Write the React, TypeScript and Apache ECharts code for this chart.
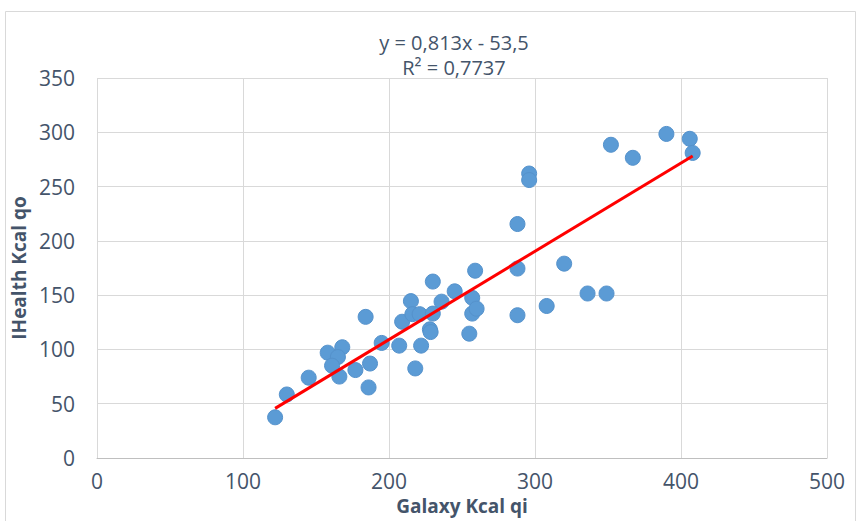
import React, { useEffect, useRef } from "react";
import * as echarts from "echarts";

const galaxyKcal: number[] = [
  122, 130, 145, 158, 168, 165, 161, 166, 177, 184, 187, 186, 195, 207, 218, 222,
  209, 215, 216, 221, 228, 228.5, 230, 230, 236, 245, 255, 257, 257, 260, 259,
  288, 288, 308, 288, 296, 296, 320, 336, 349, 352, 367, 390, 406, 408,
];
const healthKcal: number[] = [
  37.5, 58.5, 74, 97, 102, 93, 85, 75, 81, 130, 87, 65, 106, 103.5, 82.5, 103.5,
  125.5, 144.5, 132.5, 132.5, 118.5, 116, 133, 162.5, 144, 153.5, 114.5, 147.5, 133, 137.5, 172.5,
  174.5, 131.5, 140, 215.5, 262, 256, 179, 151.5, 151.5, 288.5, 276.5, 298.5, 294, 281,
];
const points: [number, number][] = galaxyKcal.map((x, i) => [x, healthKcal[i]]);

const slope = 0.813;
const intercept = -53.5;
const equationText = "y = 0,813x - 53,5";
const r2Text = "R² = 0,7737";
const xTicks = [0, 100, 200, 300, 400, 500];
const yTicks = [0, 50, 100, 150, 200, 250, 300, 350];

export default function App() {
  const ref = useRef<HTMLDivElement>(null);
  useEffect(() => {
    document.body.style.margin = "0";
    if (!ref.current) return;
    const chart = echarts.init(ref.current, undefined, { renderer: "svg" });
    const xs = points.map((p) => p[0]);
    const xMin = Math.min(...xs);
    const xMax = Math.max(...xs);
    const trend = [
      [xMin, slope * xMin + intercept],
      [xMax, slope * xMax + intercept],
    ];
    const textColor = "#44546A";
    const font = "'Open Sans', sans-serif";
    chart.setOption({
      animation: false,
      backgroundColor: "#ffffff",
      grid: { left: 97, right: 31, top: 78, bottom: 63, containLabel: false },
      graphic: [
        {
          type: "rect",
          shape: { x: 5.5, y: 11.5, width: 850, height: 520 },
          style: { fill: "none", stroke: "#D9D9D9", lineWidth: 1 },
          silent: true,
        },
        {
          type: "text",
          x: 454,
          y: 42,
          style: {
            text: equationText,
            fill: textColor,
            font: `20px ${font}`,
            align: "center",
            verticalAlign: "middle",
          },
        },
        {
          type: "text",
          x: 454,
          y: 67,
          style: {
            text: r2Text,
            fill: textColor,
            font: `20px ${font}`,
            align: "center",
            verticalAlign: "middle",
          },
        },
      ],
      xAxis: {
        type: "value",
        min: xTicks[0],
        max: xTicks[xTicks.length - 1],
        interval: 100,
        name: "Galaxy Kcal qi",
        nameLocation: "middle",
        nameGap: 38,
        nameTextStyle: { color: textColor, fontSize: 19, fontWeight: "bold", fontFamily: font },
        axisLine: { show: true, lineStyle: { color: "#BFBFBF", width: 1 } },
        axisTick: { show: false },
        axisLabel: { color: textColor, fontSize: 21, fontFamily: font, margin: 12 },
        splitLine: { show: true, lineStyle: { color: "#D9D9D9", width: 1 } },
      },
      yAxis: {
        type: "value",
        min: yTicks[0],
        max: yTicks[yTicks.length - 1],
        interval: 50,
        name: "IHealth Kcal qo",
        nameLocation: "middle",
        nameGap: 53,
        nameRotate: 90,
        nameTextStyle: { color: textColor, fontSize: 19, fontWeight: "bold", fontFamily: font },
        axisLine: { show: false },
        axisTick: { show: false },
        axisLabel: { color: textColor, fontSize: 21, fontFamily: font, margin: 22 },
        splitLine: { show: true, lineStyle: { color: "#D9D9D9", width: 1 } },
      },
      series: [
        {
          type: "scatter",
          data: points,
          symbol: "circle",
          symbolSize: 15,
          itemStyle: { color: "#5B9BD5", borderColor: "#5592CC", borderWidth: 1, opacity: 1 },
          z: 2,
        },
        {
          type: "line",
          data: trend,
          symbol: "none",
          lineStyle: { color: "#FF0000", width: 3 },
          z: 3,
        },
      ],
    });
    return () => chart.dispose();
  }, []);
  return <div ref={ref} style={{ width: 858, height: 521 }} />;
}
